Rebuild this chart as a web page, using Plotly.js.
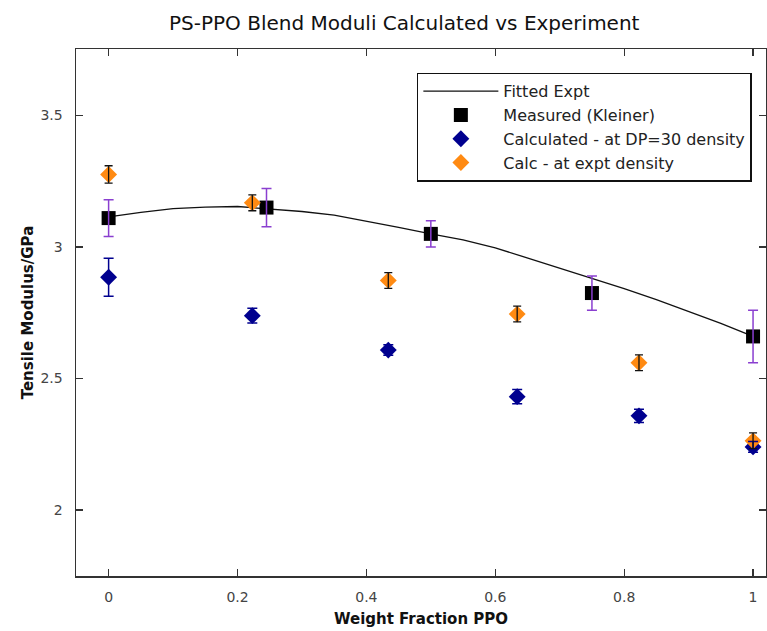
<!DOCTYPE html>
<html>
<head>
<meta charset="utf-8">
<script src="https://cdn.plot.ly/plotly-3.0.1.min.js"></script>
<style>
  html, body { margin: 0; padding: 0; background: #fff; }
  #chart { width: 767px; height: 631px; }
</style>
</head>
<body>
<div id="chart"></div>
<script>
// Polynomial fit through the measured moduli (sampled curve)
const fitX = [0, 0.05, 0.1, 0.15, 0.2, 0.25, 0.3, 0.35, 0.4, 0.45, 0.5,
              0.55, 0.6, 0.65, 0.7, 0.75, 0.8, 0.85, 0.9, 0.95, 1.0];
const fitY = [3.115, 3.132, 3.146, 3.152, 3.154, 3.145, 3.135, 3.121, 3.099, 3.075, 3.05,
              3.027, 2.997, 2.958, 2.922, 2.883, 2.842, 2.800, 2.755, 2.710, 2.66];

// Measured (Kleiner)
const measX = [0, 0.245, 0.5, 0.75, 1.0];
const measY = [3.11, 3.15, 3.05, 2.825, 2.66];
const measErr = [0.07, 0.073, 0.05, 0.065, 0.10];

// Calculated at DP=30 density
const calcX = [0, 0.223, 0.434, 0.634, 0.823, 1.0];
const dp30Y = [2.885, 2.739, 2.608, 2.431, 2.358, 2.240];
const dp30Err = [0.072, 0.028, 0.02, 0.027, 0.025, 0.02];

// Calculated at experimental density
const exptY = [3.276, 3.168, 2.873, 2.745, 2.560, 2.263];
const exptErr = [0.033, 0.03, 0.03, 0.03, 0.03, 0.03];

const xTicks = [0, 0.2, 0.4, 0.6, 0.8, 1];
const xTickText = ['0', '0.2', '0.4', '0.6', '0.8', '1'];
const yTicks = [2, 2.5, 3, 3.5];
const yTickText = ['2', '2.5', '3', '3.5'];

const NAVY = '#00008f';
const ORANGE = '#ff8a12';
const PURPLE = '#8a3fd0';
const FONT = 'DejaVu Sans, Verdana, sans-serif';

const traces = [
  { x: fitX, y: fitY, type: 'scatter', mode: 'lines', name: 'Fitted Expt',
    line: { color: '#111', width: 1.3 }, hoverinfo: 'skip' },
  { x: measX, y: measY, type: 'scatter', mode: 'markers', name: 'Measured (Kleiner)',
    marker: { symbol: 'square', size: 14, color: '#000' } },
  { x: calcX, y: dp30Y, type: 'scatter', mode: 'markers', name: 'Calculated - at DP=30 density',
    marker: { symbol: 'diamond', size: 13, color: NAVY } },
  { x: calcX, y: exptY, type: 'scatter', mode: 'markers', name: 'Calc - at expt density',
    marker: { symbol: 'diamond', size: 13, color: ORANGE } },
  // error bars drawn on top of the markers
  { x: measX, y: measY, type: 'scatter', mode: 'markers', showlegend: false,
    marker: { size: 1, opacity: 0 },
    error_y: { type: 'data', array: measErr, visible: true, color: PURPLE, thickness: 1.5, width: 5 } },
  { x: calcX, y: dp30Y, type: 'scatter', mode: 'markers', showlegend: false,
    marker: { size: 1, opacity: 0 },
    error_y: { type: 'data', array: dp30Err, visible: true, color: NAVY, thickness: 1.5, width: 5 } },
  { x: calcX, y: exptY, type: 'scatter', mode: 'markers', showlegend: false,
    marker: { size: 1, opacity: 0 },
    error_y: { type: 'data', array: exptErr, visible: true, color: '#111', thickness: 1.3, width: 4 } }
];

const axisCommon = {
  showgrid: false, zeroline: false,
  showline: true, linecolor: '#333', linewidth: 1.5, mirror: 'allticks',
  ticks: 'inside', ticklen: 7, tickwidth: 1.3, tickcolor: '#333',
  tickfont: { family: FONT, size: 14, color: '#444' }
};

const layout = {
  width: 767, height: 631,
  margin: { l: 76, r: 1, t: 49, b: 55 },
  paper_bgcolor: '#fff', plot_bgcolor: '#fff',
  title: { text: 'PS-PPO Blend Moduli Calculated vs Experiment',
           font: { family: FONT, size: 20, color: '#111' },
           x: 0.527, xanchor: 'center', y: 0.964, yanchor: 'middle' },
  xaxis: Object.assign({}, axisCommon, {
    range: [-0.0506, 1.0201], tickvals: xTicks, ticktext: xTickText,
    ticklabelstandoff: 8,
    title: { text: '<b>Weight Fraction PPO</b>', font: { family: FONT, size: 15, color: '#111' }, standoff: 9 }
  }),
  yaxis: Object.assign({}, axisCommon, {
    range: [1.749, 3.753], tickvals: yTicks, ticktext: yTickText,
    ticklabelstandoff: 9,
    title: { text: '<b>Tensile Modulus/GPa</b>', font: { family: FONT, size: 15, color: '#111' }, standoff: 3 }
  }),
  legend: {
    x: 0.494, y: 0.955, xanchor: 'left', yanchor: 'top',
    bgcolor: '#fff', bordercolor: '#111', borderwidth: 1.5,
    font: { family: FONT, size: 16, color: '#222' },
    itemwidth: 75, tracegroupgap: 0
  },
  showlegend: true
};

Plotly.newPlot('chart', traces, layout, { staticPlot: true, displayModeBar: false });
</script>
</body>
</html>
